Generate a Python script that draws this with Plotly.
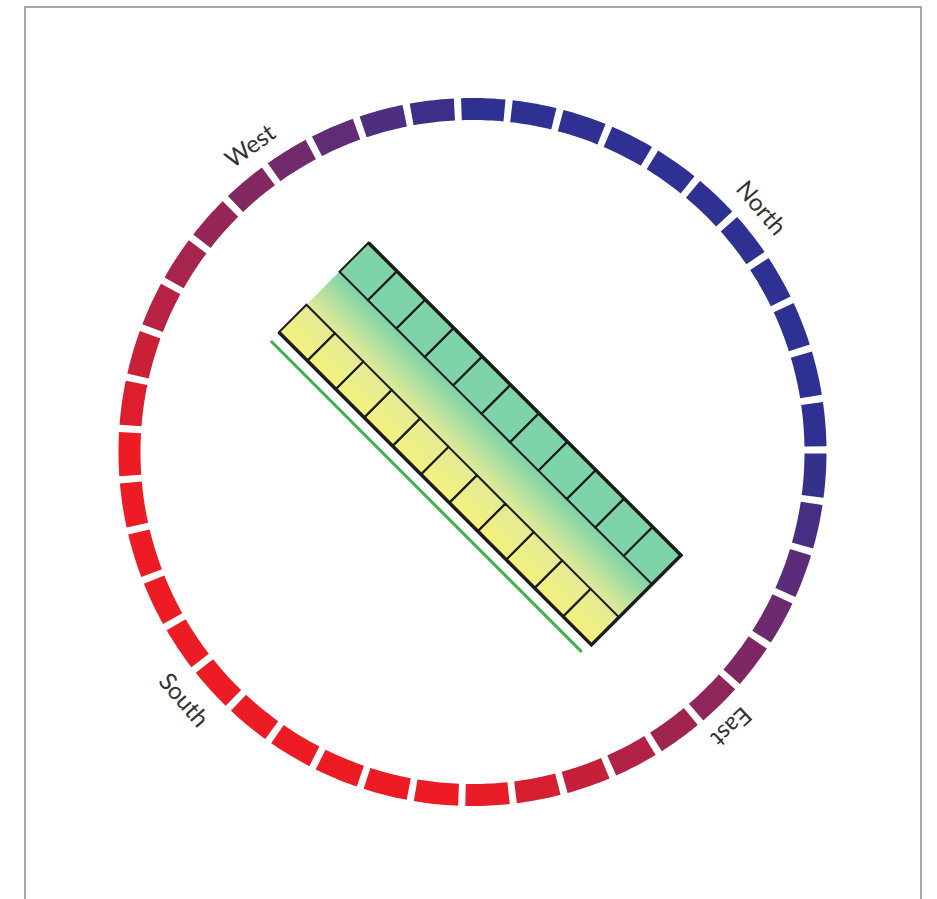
import numpy as np
import plotly.graph_objects as go

# compass ring
N_SEGMENTS = 43
FIRST_SEGMENT_DEG = 1.75      # centre of first segment, clockwise from top
SEGMENT_FILL = 0.86           # share of each step that is coloured
RING_INNER = 332
RING_OUTER = 354
NORTH_DEG = 45
# colour against angular distance from north
RING_STOP_DEG = [0, 45, 135, 180]
RING_STOP_COLORS = ["#2E3192", "#2E3192", "#ED1C24", "#ED1C24"]

# direction labels
DIRECTIONS = ["North", "East", "South", "West"]
LABEL_DEG = [49.7, 136.8, 229.3, 324.1]
LABEL_FLIP = [False, False, True, False]
LABEL_RADIUS = 379

# rotated block (u along the long side, v towards north)
BLOCK_CELLS = 11
BLOCK_U = [-221.5, 220.5]
YELLOW_ROW = [-52.3, -13.3]
GREEN_ROW = [33.4, 74.4]
GRAD_V = [-52.3, -13.3, 33.4]
GRAD_COLORS = ["#F4F27E", "#E3EB96", "#7ED3A8"]
GREEN_FILL = "#7ED3A8"
EDGE_LINE_V = -64.1
EDGE_LINE_U = [-221.0, 218.5]


def hex_rgb(h):
    h = h.lstrip("#")
    return np.array([int(h[i:i + 2], 16) for i in (0, 2, 4)], dtype=float)


def mix(stops, colors, x):
    cols = np.array([hex_rgb(c) for c in colors])
    rgb = [np.interp(x, stops, cols[:, k]) for k in range(3)]
    return "rgb(%d,%d,%d)" % tuple(int(round(c)) for c in rgb)


def polar_xy(r, deg):
    a = np.radians(deg)
    return r * np.sin(a), r * np.cos(a)


def to_xy(u, v):
    return (u + v) / np.sqrt(2), (v - u) / np.sqrt(2)


def path(points):
    return "M " + " L ".join("%.2f,%.2f" % p for p in points) + " Z"


def local_rect(u0, u1, v0, v1):
    return [to_xy(u0, v0), to_xy(u1, v0), to_xy(u1, v1), to_xy(u0, v1)]


fig = go.Figure()
shapes = []

# ring segments
step = 360 / N_SEGMENTS
for i in range(N_SEGMENTS):
    c = FIRST_SEGMENT_DEG + i * step
    half = step * SEGMENT_FILL / 2
    angs = np.linspace(c - half, c + half, 12)
    pts = [polar_xy(RING_OUTER, a) for a in angs] + [polar_xy(RING_INNER, a) for a in angs[::-1]]
    d = abs(((c - NORTH_DEG) + 180) % 360 - 180)
    shapes.append(dict(type="path", path=path(pts), fillcolor=mix(RING_STOP_DEG, RING_STOP_COLORS, d),
                       line=dict(width=0), layer="below"))

# gradient strips across the block
n_strips = 60
vs = np.linspace(GRAD_V[0], GRAD_V[-1], n_strips + 1)
for k in range(n_strips):
    vm = (vs[k] + vs[k + 1]) / 2
    shapes.append(dict(type="path", path=path(local_rect(BLOCK_U[0], BLOCK_U[1], vs[k] - 0.4, vs[k + 1] + 0.4)),
                       fillcolor=mix(GRAD_V, GRAD_COLORS, vm), line=dict(width=0)))
shapes.append(dict(type="path", path=path(local_rect(BLOCK_U[0], BLOCK_U[1], GREEN_ROW[0] - 0.5, GREEN_ROW[1])),
                   fillcolor=GREEN_FILL, line=dict(width=0)))

# cells
us = np.linspace(BLOCK_U[0], BLOCK_U[1], BLOCK_CELLS + 1)
for row in (YELLOW_ROW, GREEN_ROW):
    for k in range(BLOCK_CELLS):
        shapes.append(dict(type="path", path=path(local_rect(us[k], us[k + 1], row[0], row[1])),
                           line=dict(color="#1c1c1c", width=2)))

# thick outline (open at the west end)
outline = [to_xy(BLOCK_U[0], GREEN_ROW[1]), to_xy(BLOCK_U[1], GREEN_ROW[1]),
           to_xy(BLOCK_U[1], YELLOW_ROW[0]), to_xy(BLOCK_U[0], YELLOW_ROW[0])]
shapes.append(dict(type="path", path="M " + " L ".join("%.2f,%.2f" % p for p in outline),
                   line=dict(color="#1c1c1c", width=3.5)))

# green edge line
a = to_xy(EDGE_LINE_U[0], EDGE_LINE_V)
b = to_xy(EDGE_LINE_U[1], EDGE_LINE_V)
shapes.append(dict(type="line", x0=a[0], y0=a[1], x1=b[0], y1=b[1], line=dict(color="#3BB44A", width=3)))

# frame
shapes.append(dict(type="rect", xref="paper", yref="paper", x0=25 / 937, x1=921 / 937, y0=-0.05, y1=1 - 7 / 899,
                   line=dict(color="#8a8a8a", width=1.5)))

annotations = []
for name, deg, flip in zip(DIRECTIONS, LABEL_DEG, LABEL_FLIP):
    x, y = polar_xy(LABEL_RADIUS, deg)
    ang = deg - 180 if flip else deg
    if ang > 180:
        ang -= 360
    annotations.append(dict(x=x, y=y, text=name, showarrow=False, textangle=ang,
                            xanchor="center", yanchor="middle",
                            font=dict(family="Lato", size=24, color="#333333")))

fig.add_trace(go.Scatter(x=[0], y=[0], mode="markers", marker=dict(opacity=0), hoverinfo="skip", showlegend=False))

fig.update_layout(
    width=937, height=899,
    margin=dict(l=0, r=0, t=0, b=0),
    paper_bgcolor="white", plot_bgcolor="white",
    xaxis=dict(range=[-472.5, 464.5], visible=False, fixedrange=True),
    yaxis=dict(range=[-447, 452], visible=False, fixedrange=True),
    shapes=shapes, annotations=annotations,
    showlegend=False,
)

fig.write_html("out.html", config={"displayModeBar": False},
               post_script="document.body.style.margin='0';")
